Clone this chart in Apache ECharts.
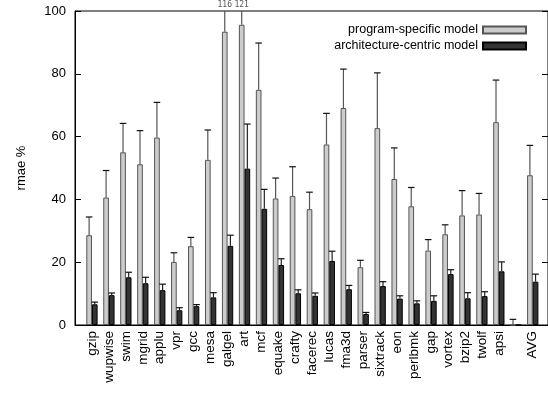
<!DOCTYPE html>
<html>
<head>
<meta charset="utf-8">
<script src="https://cdn.jsdelivr.net/npm/echarts@6/dist/echarts.min.js"></script>
<style>html,body{margin:0;padding:0;background:#fff}#c{width:548px;height:394px}</style>
</head>
<body>
<div id="c"></div>
<script>
var categories = ['gzip','wupwise','swim','mgrid','applu','vpr','gcc','mesa','galgel','art','mcf','equake','crafty','facerec','lucas','fma3d','parser','sixtrack','eon','perlbmk','gap','vortex','bzip2','twolf','apsi','','AVG'];
var programSpecific = [28.6,40.6,55.0,51.2,59.7,20.1,25.1,52.6,93.4,95.6,74.9,40.3,41.1,36.9,57.5,69.1,18.4,62.7,46.5,37.8,23.7,28.9,34.9,35.2,64.6,0,47.7];
var programSpecificErr = [34.4,49.2,64.2,61.9,70.9,23.0,27.9,62.1,116,121,89.8,46.8,50.4,42.3,67.4,81.5,20.6,80.3,56.4,43.8,27.2,31.9,42.8,41.9,78.0,1.8,57.2];
var archCentric = [6.6,9.5,15.2,13.3,11.1,4.7,6.0,8.8,25.2,49.8,37.0,19.1,10.1,9.3,20.4,11.4,3.5,12.4,8.4,6.9,7.7,16.2,8.5,9.2,17.1,0,13.8];
var archCentricErr = [7.3,10.2,16.8,15.2,13.0,5.5,6.5,10.3,28.6,64.0,43.2,21.1,11.2,10.2,23.5,12.6,4.0,13.8,9.3,7.7,9.3,17.6,10.3,10.6,20.1,0,16.2];
var yTicks = [0,20,40,60,80,100];

var BW = 5.65;
var YMAX = 100;
var FONT = '"Liberation Sans", Arial, sans-serif';

function barData(vals){ return vals.map(function(v,i){ return [i, v]; }); }
function errData(vals, errs){ return vals.map(function(v,i){ return [i, v, errs[i]]; }); }

function errRenderer(off, color){
  return function(params, api){
    var x = api.value(0), lo = api.value(1), hi = api.value(2);
    if (!(hi > lo)) return null;
    var p0 = api.coord([x, lo]);
    var p1 = api.coord([x, Math.min(hi, YMAX)]);
    var cx = p0[0] + off;
    var ch = [{
      type: 'line',
      shape: {x1: cx, y1: p0[1], x2: cx, y2: p1[1]},
      style: {stroke: color, lineWidth: 1.2}
    }];
    if (hi <= YMAX) {
      ch.push({
        type: 'line',
        shape: {x1: cx - 3.3, y1: p1[1], x2: cx + 3.3, y2: p1[1]},
        style: {stroke: '#111', lineWidth: 1.2}
      });
    } else {
      ch.push({
        type: 'text',
        style: {x: cx, y: p1[1] - 2, text: String(Math.round(hi)), fill: '#555',
          font: '8px "DejaVu Sans Mono", monospace', align: 'center', verticalAlign: 'bottom'}
      });
    }
    return {type: 'group', children: ch};
  };
}

var chart = echarts.init(document.getElementById('c'), null, {renderer: 'canvas'});
chart.setOption({
  animation: false,
  grid: {left: 75, right: 0, top: 11, bottom: 69, show: true, borderColor: '#000', borderWidth: 1},
  legend: {
    orient: 'vertical', right: 16, top: 18, align: 'right',
    icon: 'rect',
    itemWidth: 43, itemHeight: 7, itemGap: 2,
    data: ['program-specific model', 'architecture-centric model'],
    textStyle: {fontFamily: FONT, fontSize: 12.5, color: '#000', lineHeight: 14}
  },
  xAxis: {
    type: 'value', min: -1, max: 26.9, interval: 1,
    axisLine: {show: true, onZero: false, lineStyle: {color: '#000', width: 1}},
    axisTick: {show: false},
    splitLine: {show: false},
    axisLabel: {
      rotate: 90, margin: 6, fontFamily: FONT, fontSize: 13.5, color: '#000',
      showMaxLabel: false, showMinLabel: true,
      formatter: function(v){ var i = Math.round(v); return (Math.abs(v - i) < 1e-6 && categories[i] !== undefined) ? categories[i] : ''; }
    }
  },
  yAxis: [{
    type: 'value', min: yTicks[0], max: yTicks[yTicks.length-1], interval: 20,
    name: 'rmae %', nameLocation: 'middle', nameGap: 47, nameRotate: 90,
    nameTextStyle: {fontFamily: FONT, fontSize: 13, color: '#000'},
    axisLine: {show: true, onZero: false, lineStyle: {color: '#000'}},
    axisTick: {show: true, inside: true, length: 6, lineStyle: {color: '#000'}},
    splitLine: {show: false},
    axisLabel: {fontFamily: FONT, fontSize: 13, color: '#000', margin: 9}
  }, {
    type: 'value', position: 'right', min: 0, max: 100, interval: 20,
    axisLine: {show: true, onZero: false, lineStyle: {color: '#000'}},
    axisTick: {show: true, inside: true, length: 6, lineStyle: {color: '#000'}},
    splitLine: {show: false},
    axisLabel: {show: false}
  }],
  series: [{
    name: 'program-specific model', type: 'bar', barWidth: BW, barGap: '0%',
    data: barData(programSpecific),
    itemStyle: {color: '#cccccc', borderColor: '#555', borderWidth: 1}
  }, {
    name: 'architecture-centric model', type: 'bar', barWidth: BW, barGap: '0%',
    data: barData(archCentric),
    itemStyle: {color: '#333333', borderColor: '#000', borderWidth: 1}
  }, {
    type: 'custom', z: 5, clip: false,
    renderItem: errRenderer(-BW/2, '#555'),
    data: errData(programSpecific, programSpecificErr),
    encode: {x: 0, y: [1, 2]}
  }, {
    type: 'custom', z: 5, clip: false,
    renderItem: errRenderer(BW/2, '#222'),
    data: errData(archCentric, archCentricErr),
    encode: {x: 0, y: [1, 2]}
  }]
});
</script>
</body>
</html>
